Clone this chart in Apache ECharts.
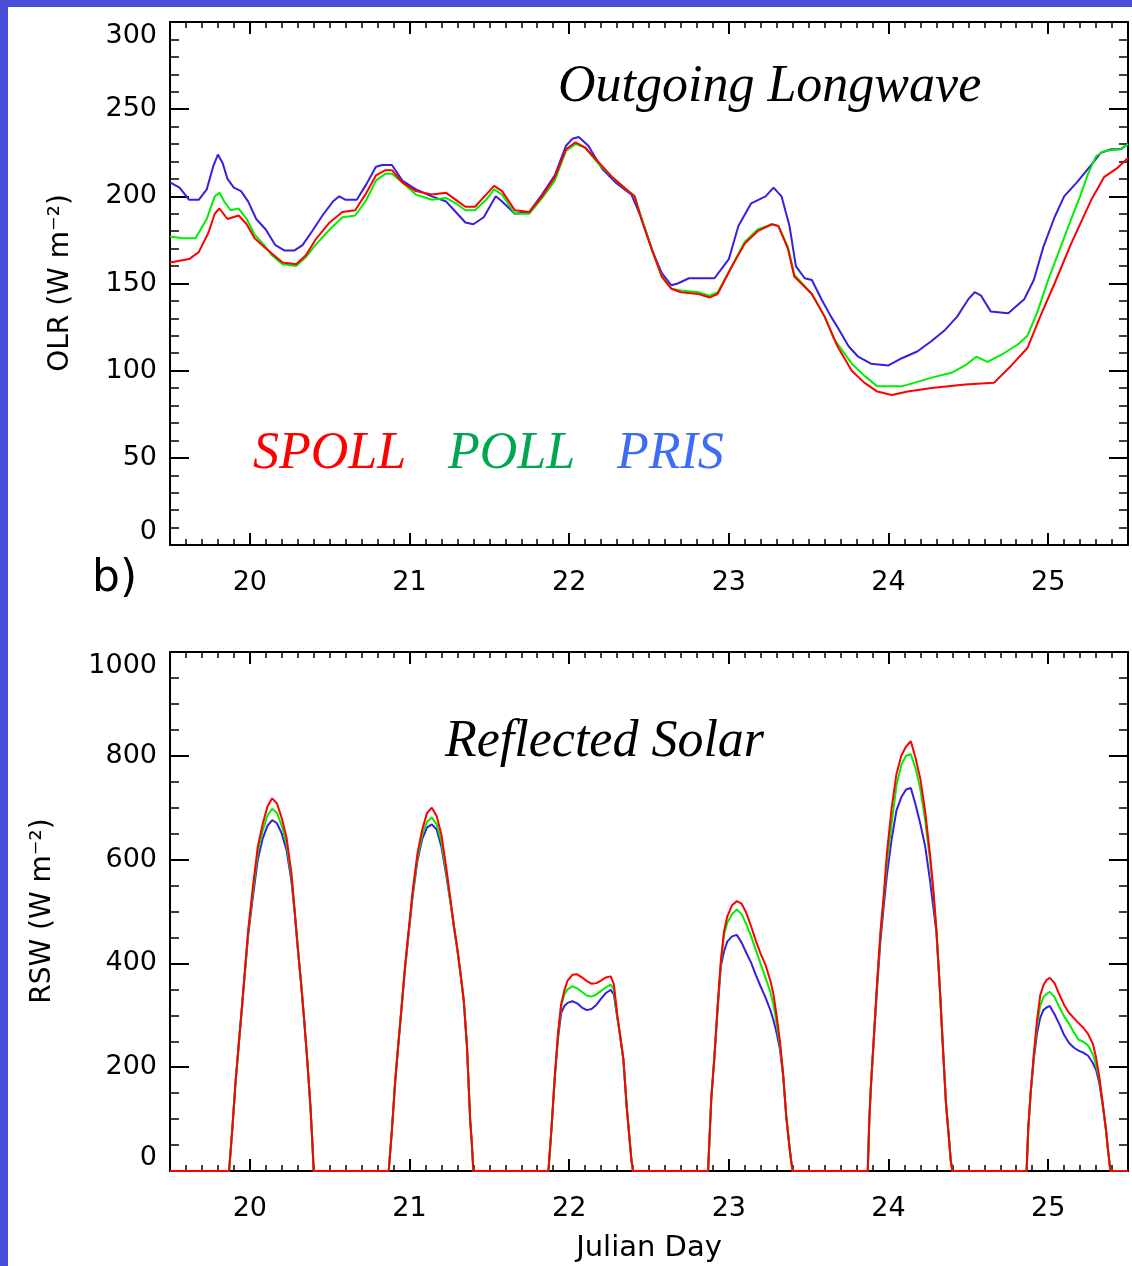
<!DOCTYPE html>
<html>
<head>
<meta charset="utf-8">
<script src="https://cdn.jsdelivr.net/npm/echarts@6/dist/echarts.min.js"></script>
<style>
html,body{margin:0;padding:0;background:#fff;}
#c{width:1132px;height:1266px;}
</style>
</head>
<body>
<div id="c"></div>
<script>
// ---------- DATA ----------
const xTickDays = [20, 21, 22, 23, 24, 25];
const olrTicks = [0, 50, 100, 150, 200, 250, 300];
const rswTicks = [0, 200, 400, 600, 800, 1000];

// Outgoing longwave (W m-2)
const olrBlueDays = [19.50,19.56,19.62,19.68,19.73,19.77,19.80,19.83,19.86,19.90,19.945,19.99,20.04,20.10,20.16,20.216,20.28,20.33,20.39,20.455,20.52,20.56,20.60,20.67,20.73,20.79,20.83,20.89,20.955,21.04,21.14,21.23,21.29,21.35,21.40,21.465,21.54,21.58,21.66,21.75,21.83,21.91,21.98,22.02,22.06,22.12,22.205,22.29,22.39,22.455,22.52,22.58,22.64,22.68,22.75,22.91,23.00,23.06,23.14,23.23,23.28,23.33,23.38,23.42,23.475,23.52,23.58,23.64,23.68,23.75,23.81,23.89,24.00,24.08,24.18,24.27,24.35,24.43,24.50,24.54,24.58,24.64,24.75,24.85,24.91,24.97,25.04,25.10,25.18,25.27,25.33,25.395,25.455,25.50];
const olrBlue = [208,205,198,198,204,217,224,219,210,205,203,197,187,181,172,169,169,172,180,189,197,200,198,198,207,217,218,218,209,204,200,197,191,185,184,188,200,197,190,191,201,212,229,233,234,229,216,208,201,187,169,156,149,150,153,153,164,183,196,200,205,200,183,160,153,152,141,131,125,114,108,104,103,107,111,117,123,131,141,145,143,134,133,141,152,171,188,200,208,218,225,227,227,230];

const olrGreenDays = [19.50,19.58,19.66,19.73,19.78,19.81,19.84,19.88,19.93,19.98,20.03,20.09,20.14,20.205,20.29,20.35,20.41,20.50,20.58,20.66,20.73,20.79,20.85,20.89,20.955,21.04,21.14,21.23,21.29,21.35,21.41,21.48,21.53,21.58,21.66,21.75,21.83,21.91,21.98,22.04,22.10,22.18,22.27,22.37,22.41,22.455,22.52,22.58,22.64,22.70,22.81,22.88,22.93,23.02,23.10,23.18,23.27,23.31,23.37,23.41,23.52,23.60,23.66,23.77,23.85,23.93,24.08,24.16,24.27,24.40,24.48,24.55,24.62,24.705,24.81,24.87,24.93,25.00,25.07,25.14,25.20,25.25,25.30,25.35,25.45,25.50];
const olrGreen = [177,176,176,187,200,202,197,192,193,187,178,172,166,161,160,165,172,181,188,189,198,209,213,213,208,201,198,199,196,192,192,198,204,201,190,190,199,209,226,230,228,219,211,203,200,187,169,154,147,146,145,143,145,160,174,181,184,183,171,155,144,131,118,104,97,91,91,93,96,99,103,108,105,109,115,120,133,152,169,186,200,213,223,226,227,230];

const olrRedDays = [19.50,19.62,19.68,19.74,19.78,19.81,19.86,19.93,19.98,20.03,20.09,20.14,20.205,20.29,20.35,20.41,20.50,20.58,20.66,20.73,20.79,20.85,20.89,20.955,21.04,21.14,21.23,21.29,21.35,21.41,21.48,21.53,21.58,21.66,21.75,21.83,21.91,21.98,22.04,22.10,22.18,22.27,22.37,22.41,22.455,22.52,22.58,22.64,22.70,22.81,22.88,22.93,23.02,23.10,23.18,23.27,23.31,23.37,23.41,23.52,23.60,23.68,23.77,23.85,23.93,24.02,24.12,24.27,24.48,24.66,24.77,24.87,24.95,25.04,25.14,25.18,25.27,25.35,25.43,25.50];
const olrRed = [162,164,168,179,190,193,187,189,184,176,171,167,162,161,166,175,185,191,192,202,212,215,215,208,203,201,202,198,194,194,201,206,203,192,191,200,211,227,231,228,220,211,203,200,186,169,154,147,145,144,142,144,160,173,180,184,183,170,154,144,131,114,100,93,88,86,88,90,92,93,103,113,131,150,172,180,198,211,216,222];

// Reflected solar (W m-2), shared time axis
const rswDays = [19.50,
 19.87,19.88,19.89,19.91,19.93,19.95,19.97,19.99,20.02,20.05,20.08,20.11,20.14,20.17,20.20,20.23,20.26,20.28,20.30,20.32,20.34,20.36,20.38,20.39,20.40,
 20.87,20.88,20.89,20.91,20.93,20.95,20.97,20.99,21.02,21.05,21.08,21.11,21.14,21.17,21.20,21.23,21.26,21.28,21.30,21.32,21.34,21.36,21.38,21.39,21.40,
 21.87,21.88,21.89,21.91,21.93,21.95,21.97,21.99,22.02,22.05,22.08,22.11,22.14,22.17,22.20,22.23,22.26,22.28,22.30,22.32,22.34,22.36,22.38,22.39,22.40,
 22.87,22.88,22.89,22.91,22.93,22.95,22.97,22.99,23.02,23.05,23.08,23.11,23.14,23.17,23.20,23.23,23.26,23.28,23.30,23.32,23.34,23.36,23.38,23.39,23.40,
 23.87,23.88,23.89,23.91,23.93,23.95,23.97,23.99,24.02,24.05,24.08,24.11,24.14,24.17,24.20,24.23,24.26,24.28,24.30,24.32,24.34,24.36,24.38,24.39,24.40,
 24.865,24.875,24.89,24.91,24.93,24.95,24.97,24.99,25.01,25.04,25.07,25.10,25.13,25.16,25.19,25.22,25.25,25.28,25.30,25.32,25.34,25.36,25.375,25.39,
 25.50];
const rswRed = [0,
 0,0,80,170,243,315,390,465,550,625,668,702,718,708,680,642,575,505,432,365,292,212,122,65,0,
 0,0,80,172,245,315,388,450,540,612,658,690,700,684,648,585,515,470,428,380,328,240,98,55,0,
 0,0,85,182,265,322,348,367,378,379,373,366,361,362,367,373,375,360,304,259,214,125,55,21,0,
 0,0,140,222,320,405,462,490,512,520,515,497,471,443,418,397,367,340,298,250,188,104,46,20,0,
 0,100,165,268,370,462,530,612,700,765,800,818,828,795,755,692,610,545,465,360,243,130,58,20,0,
 0,80,150,225,290,338,358,368,372,362,340,320,305,295,285,276,264,245,219,182,134,86,40,0,
 0];
const rswGreen = [0,
 0,0,80,170,243,315,388,460,540,615,655,685,698,690,665,630,568,503,432,365,292,212,122,65,0,
 0,0,80,172,245,315,386,447,535,605,648,673,681,668,635,577,510,467,426,380,328,240,98,55,0,
 0,0,85,182,262,318,340,350,356,352,345,338,336,340,347,354,359,350,300,259,214,125,55,21,0,
 0,0,140,222,318,400,455,478,495,504,495,475,452,425,398,372,345,320,282,242,185,104,46,20,0,
 0,100,165,268,368,458,525,595,670,743,782,800,803,775,735,675,600,540,465,360,243,130,58,20,0,
 0,80,150,222,280,318,335,341,345,335,316,298,284,268,253,249,242,225,205,178,132,85,40,0,
 0];
const rswBlue = [0,
 0,0,80,168,240,312,385,455,530,600,640,665,676,670,650,618,560,500,430,365,292,212,122,65,0,
 0,0,80,170,243,312,383,443,530,598,640,662,668,658,625,570,510,466,425,378,328,240,98,55,0,
 0,0,85,180,255,305,318,324,327,323,315,310,312,320,332,343,349,340,298,259,214,125,55,21,0,
 0,0,138,220,312,395,423,442,452,455,440,420,401,377,355,334,310,290,265,235,183,104,46,20,0,
 0,100,163,262,360,445,510,570,640,695,720,735,738,705,668,625,560,510,460,360,243,130,58,20,0,
 0,80,148,215,265,295,310,315,318,302,283,262,247,238,232,228,222,208,195,170,130,84,40,0,
 0];

const seriesNames = ['PRIS', 'POLL', 'SPOLL'];
const lineColors = ['#3a1ee0', '#00ee00', '#ff0000'];
const labelColors = ['#3f6cf4', '#00a650', '#ff0000'];

// ---------- CHART ----------
const FONT = '"DejaVu Sans", sans-serif';
const pairs = (xs, ys) => xs.map((x, i) => [x, ys[i]]);
const intLabel = v => (Math.abs(v - Math.round(v)) < 1e-6 ? String(Math.round(v)) : '');

function xAx(grid, pos, labels) {
  return {
    type: 'value', gridIndex: grid, position: pos, min: 19.5, max: 25.5,
    splitNumber: 6, minInterval: 1, maxInterval: 1,
    axisLine: { show: true, onZero: false, lineStyle: { color: '#000', width: 2 } },
    axisTick: { show: true, inside: true, length: 12, lineStyle: { color: '#000', width: 2 } },
    minorTick: { show: true, splitNumber: 10, length: 6, lineStyle: { color: '#000', width: 1.5 } },
    splitLine: { show: false },
    axisLabel: { show: labels, formatter: intLabel, margin: 24, fontSize: 27, color: '#000', fontFamily: FONT }
  };
}
function yAx(grid, pos, max, interval, minorSplit, labels) {
  return {
    type: 'value', gridIndex: grid, position: pos, min: 0, max: max, interval: interval,
    axisLine: { show: true, onZero: false, lineStyle: { color: '#000', width: 2 } },
    axisTick: { show: true, inside: true, length: 19, lineStyle: { color: '#000', width: 2 } },
    minorTick: { show: true, splitNumber: minorSplit, length: 9, lineStyle: { color: '#000', width: 1.5 } },
    splitLine: { show: false },
    axisLabel: { show: labels, margin: 13, fontSize: 27, color: '#000', fontFamily: FONT,
      formatter: v => String(Math.round(v)),
      verticalAlignMinLabel: 'bottom', verticalAlignMaxLabel: 'top' }
  };
}
function line(name, data, color, xi, yi) {
  return { type: 'line', name: name, data: data, xAxisIndex: xi, yAxisIndex: yi,
    showSymbol: false, symbol: 'none', lineStyle: { color: color, width: 2 }, itemStyle: { color: color },
    animation: false };
}

const olrSets = [pairs(olrBlueDays, olrBlue), pairs(olrGreenDays, olrGreen), pairs(olrRedDays, olrRed)];
const rswSets = [pairs(rswDays, rswBlue), pairs(rswDays, rswGreen), pairs(rswDays, rswRed)];

const series = [];
for (let i = 0; i < 3; i++) series.push(line(seriesNames[i], olrSets[i], lineColors[i], 0, 0));
for (let i = 0; i < 3; i++) series.push(line(seriesNames[i], rswSets[i], lineColors[i], 2, 2));

function txt(text, x, y, font, color, align, rot) {
  return { type: 'text', x: x, y: y, rotation: rot || 0, z: 10,
    style: { text: text, font: font, fill: color, align: align || 'left', verticalAlign: 'middle' } };
}

const chart = echarts.init(document.getElementById('c'), null, { renderer: 'canvas' });
chart.setOption({
  animation: false,
  backgroundColor: '#ffffff',
  grid: [
    { left: 170, top: 22, width: 958, height: 523 },
    { left: 170, top: 652, width: 958, height: 519 }
  ],
  xAxis: [xAx(0, 'bottom', true), xAx(0, 'top', false), xAx(1, 'bottom', true), xAx(1, 'top', false)],
  yAxis: [yAx(0, 'left', 300, 50, 5, true), yAx(0, 'right', 300, 50, 5, false),
          yAx(1, 'left', 1000, 200, 4, true), yAx(1, 'right', 1000, 200, 4, false)],
  series: series,
  graphic: [
    { type: 'rect', shape: { x: 0, y: 0, width: 8, height: 1266 }, style: { fill: '#484fd6' }, z: 20 },
    { type: 'rect', shape: { x: 0, y: 0, width: 1132, height: 7 }, style: { fill: '#484fd6' }, z: 20 },
    txt('Outgoing Longwave', 558, 87, 'italic 52px "Liberation Serif", serif', '#000'),
    txt('Reflected Solar', 445, 742, 'italic 52px "Liberation Serif", serif', '#000'),
    txt(seriesNames[2], 253, 454, 'italic 52px "Liberation Serif", serif', labelColors[2]),
    txt(seriesNames[1], 448, 454, 'italic 52px "Liberation Serif", serif', labelColors[1]),
    txt(seriesNames[0], 617, 454, 'italic 52px "Liberation Serif", serif', labelColors[0]),
    txt('OLR (W m\u207B\u00B2)', 61, 283, '28px ' + FONT, '#000', 'center', Math.PI / 2),
    txt('RSW (W m\u207B\u00B2)', 43, 911, '28px ' + FONT, '#000', 'center', Math.PI / 2),
    txt('b)', 92, 580, '44px ' + FONT, '#000'),
    txt('Julian Day', 649, 1248, '29px ' + FONT, '#000', 'center')
  ]
});
</script>
</body>
</html>
